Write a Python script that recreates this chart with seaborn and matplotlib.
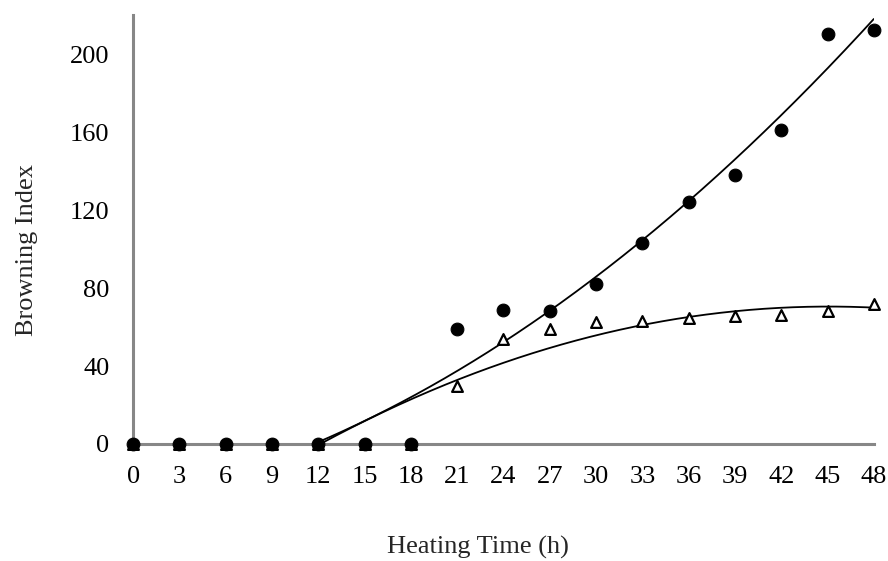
import numpy as np
import pandas as pd
import matplotlib
matplotlib.use("Agg")
import matplotlib.pyplot as plt
import seaborn as sns

sns.set_style("white")
plt.rcParams['font.family'] = ['Liberation Serif', 'DejaVu Serif']

hours = [0, 3, 6, 9, 12, 15, 18, 21, 24, 27, 30, 33, 36, 39, 42, 45, 48]
circle_vals = [0, 0, 0, 0, 0, 0, 0, 59, 69, 68.5, 82, 103, 124, 138, 161, 210.5, 212.5]
triangle_vals = [0, 0, 0, 0, 0, 0, 0, 30, 54, 59, 62.5, 63, 64.5, 65.5, 66, 68, 72]

df = pd.DataFrame({'h': hours, 'circle': circle_vals, 'triangle': triangle_vals})

fig = plt.figure(figsize=(8.88, 5.61), dpi=100)
ax = fig.add_axes([0.150, 0.2086, 0.834, 0.764])

# 2nd order trend lines fitted from 9 h on, shown where positive
fit = df[df['h'] >= 9]
xs = np.linspace(9, 48, 500)
for col in ['circle', 'triangle']:
    coef = np.polyfit(fit['h'], fit[col], 2)
    ys = np.polyval(coef, xs)
    keep = ys >= 0
    sns.lineplot(x=xs[keep], y=ys[keep], ax=ax, color='black', lw=1.3)

sns.scatterplot(data=df, x='h', y='triangle', ax=ax, marker='^', s=60,
                facecolor='white', edgecolor='black', linewidth=1.6,
                clip_on=False, zorder=3)
sns.scatterplot(data=df, x='h', y='circle', ax=ax, marker='o', s=85,
                color='black', edgecolor='black', clip_on=False, zorder=4)

ax.set_xlim(0, 48)
ax.set_ylim(0, 220)
ax.set_xticks(range(0, 49, 3))
ax.set_yticks(range(0, 201, 40))
for s in ['top', 'right']:
    ax.spines[s].set_visible(False)
for s in ['left', 'bottom']:
    ax.spines[s].set_color('#878787')
    ax.spines[s].set_linewidth(2.2)
ax.tick_params(axis='both', direction='out', length=6, width=2, color='#878787',
               labelsize=19, labelcolor='black', pad=10)
ax.tick_params(axis='y', pad=11)
ax.set_xlabel('Heating Time (h)', fontsize=19)
ax.set_ylabel('Browning Index', fontsize=19)
ax.xaxis.set_label_coords(0.466, -0.214)
ax.yaxis.set_label_coords(-0.128, 0.452)

fig.savefig('out.png', dpi=100)
